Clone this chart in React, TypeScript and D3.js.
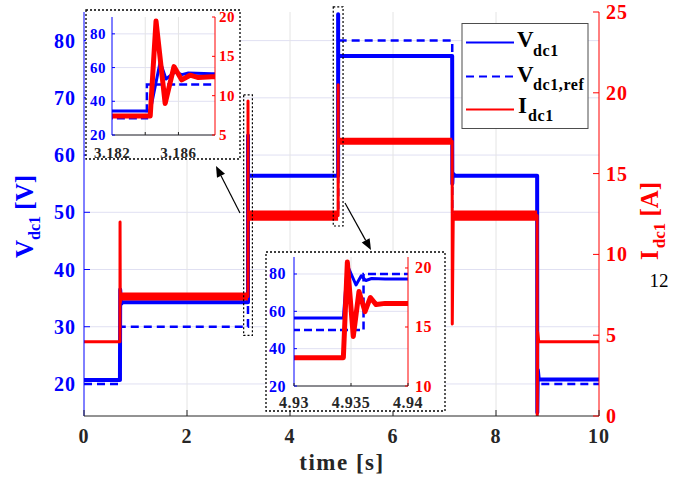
import React from 'react';
import * as d3 from 'd3';

const SERIF = '"Liberation Serif", "Times New Roman", Times, serif';
const BLUE = '#0000ff';
const RED = '#ff0000';
const AXIS_DARK = '#262626';
const GRID_H = '#e0e0f2';
const GRID_V = '#e4e4e4';

// DC-link voltage V_dc1 [V] over time [s]
const V_TIME = [0, 0.698, 0.703, 0.72, 0.75, 3.1843, 3.1849, 3.18525, 3.1858, 3.1862, 3.1866, 3.188,
  4.93433, 4.93468, 4.93544, 4.9359, 4.9363, 4.9368, 4.938, 7.149, 7.152, 7.16, 7.2,
  8.799, 8.802, 8.812, 8.83, 10];
const V_VALUE = [20.7, 20.7, 36.5, 34.0, 34.3, 34.3, 63.4, 53.2, 57.4, 55.8, 56.8, 56.4,
  56.4, 84.6, 74.1, 79.0, 76.5, 77.6, 77.3, 77.3, 55.0, 56.8, 56.4,
  56.4, 15.0, 22.5, 20.8, 20.8];

// Voltage reference V_dc1,ref [V], each value held until the next time
const VREF_TIME = [0, 0.7, 3.1841, 4.9361, 7.15, 8.8, 10];
const VREF_VALUE = [20, 30, 50, 80, 50, 20, 20];

// DC current I_dc1 [A]
const I_TIME = [0, 0.698, 0.7, 0.704, 0.72, 3.1843, 3.18465, 3.1852, 3.18573, 3.1862, 3.1867, 3.1872, 3.188,
  4.93433, 4.93468, 4.9352, 4.9357, 4.93623, 4.9367, 4.9372, 4.938, 7.149, 7.151, 7.17,
  8.799, 8.801, 8.808, 8.83, 10];
const I_VALUE = [4.6, 4.6, 12.0, 7.0, 7.4, 7.4, 19.5, 9.0, 13.7, 12.0, 12.6, 12.3, 12.4,
  12.4, 20.5, 14.2, 18.0, 16.3, 17.5, 16.9, 17.0, 17.0, 5.7, 12.4,
  12.4, 0, 5.2, 4.6, 4.6];

// Switching ripple of the current plateaus (band in the full-length view)
const RIPPLE_FROM = [0.72, 3.19, 4.94, 7.17];
const RIPPLE_TO = [3.184, 4.934, 7.149, 8.799];
const RIPPLE_LEVEL = [7.4, 12.4, 17.0, 12.4];
const RIPPLE_AMP = [0.25, 0.32, 0.22, 0.32];

// Zoomed windows marked in the full-length view
const ZOOM_T_FROM = [3.10, 4.84];
const ZOOM_T_TO = [3.27, 5.03];
const ZOOM_V_LOW = [28.5, 47.6];
const ZOOM_V_HIGH = [70.5, 85.9];

// Axis ticks
const X_TICKS = [0, 2, 4, 6, 8, 10];
const X_GRID = [2, 4, 6, 8];
const V_TICKS = [20, 30, 40, 50, 60, 70, 80];
const I_TICKS = [0, 5, 10, 15, 20, 25];
const INSET1_X_TICKS = [3.182, 3.186];
const INSET1_X_GRID = [3.184, 3.186];
const INSET1_V_TICKS = [20, 40, 60, 80];
const INSET1_I_TICKS = [5, 10, 15, 20];
const INSET2_X_TICKS = [4.93, 4.935, 4.94];
const INSET2_X_GRID = [4.935];
const INSET2_V_TICKS = [20, 40, 60, 80];
const INSET2_I_TICKS = [10, 15, 20];

type Scale = d3.ScaleLinear<number, number>;

type PanelProps = {
  id: string;
  x: Scale;
  yV: Scale;
  yI: Scale;
  xTicks: number[];
  xLabels: number[];
  xGrid: number[];
  vTicks: number[];
  iTicks: number[];
  fontSize: number;
  letterSpacing: number;
  vWidth: number;
  refWidth: number;
  iWidth: number;
  dash: string;
  ripple: boolean;
  tick: number;
  vLabelX: number;
  iLabelX: number;
  xLabelY: number;
};

function Panel(p: PanelProps) {
  const [left, right] = p.x.range();
  const [bottom, top] = p.yV.range();
  const idxV = V_TIME.map((_, i) => i);
  const idxR = VREF_TIME.map((_, i) => i);
  const idxI = I_TIME.map((_, i) => i);
  const vLine = d3.line<number>().x(i => p.x(V_TIME[i])).y(i => p.yV(V_VALUE[i]));
  const refLine = d3.line<number>().curve(d3.curveStepAfter)
    .x(i => p.x(VREF_TIME[i])).y(i => p.yV(VREF_VALUE[i]));
  const iLine = d3.line<number>().x(i => p.x(I_TIME[i])).y(i => p.yI(I_VALUE[i]));
  const clip = `clip-${p.id}`;
  const text = {
    fontFamily: SERIF,
    fontWeight: 700,
    fontSize: p.fontSize,
    letterSpacing: p.letterSpacing,
  } as const;
  return (
    <g>
      <defs>
        <clipPath id={clip}>
          <rect x={left} y={top} width={right - left} height={bottom - top} />
        </clipPath>
      </defs>
      {p.vTicks.map(v => (
        <line key={`gh${v}`} x1={left} x2={right} y1={p.yV(v)} y2={p.yV(v)} stroke={GRID_H} strokeWidth={1} />
      ))}
      {p.xGrid.map(t => (
        <line key={`gv${t}`} x1={p.x(t)} x2={p.x(t)} y1={top} y2={bottom} stroke={GRID_V} strokeWidth={1} />
      ))}
      <g clipPath={`url(#${clip})`}>
        <path d={refLine(idxR) ?? ''} fill="none" stroke={BLUE} strokeWidth={p.refWidth} strokeDasharray={p.dash} />
        <path d={vLine(idxV) ?? ''} fill="none" stroke={BLUE} strokeWidth={p.vWidth} strokeLinejoin="round" />
        {p.ripple && RIPPLE_FROM.map((t0, k) => {
          const band = d3.area<number>()
            .x(t => p.x(t))
            .y0(() => p.yI(RIPPLE_LEVEL[k] - RIPPLE_AMP[k]))
            .y1(() => p.yI(RIPPLE_LEVEL[k] + RIPPLE_AMP[k]));
          return <path key={`rp${k}`} d={band([t0, RIPPLE_TO[k]]) ?? ''} fill={RED} />;
        })}
        <path d={iLine(idxI) ?? ''} fill="none" stroke={RED} strokeWidth={p.iWidth} strokeLinejoin="round" />
      </g>
      <line x1={left} x2={left} y1={top} y2={bottom} stroke={BLUE} strokeWidth={1} />
      <line x1={right} x2={right} y1={top} y2={bottom} stroke={RED} strokeWidth={1} />
      <line x1={left} x2={right} y1={bottom} y2={bottom} stroke={AXIS_DARK} strokeWidth={1} />
      {p.vTicks.map(v => (
        <g key={`vt${v}`}>
          <line x1={left} x2={left + p.tick} y1={p.yV(v)} y2={p.yV(v)} stroke={BLUE} strokeWidth={1} />
          <text {...text} x={p.vLabelX} y={p.yV(v)} textAnchor="end" dominantBaseline="central" fill={BLUE}>{v}</text>
        </g>
      ))}
      {p.iTicks.map(v => (
        <g key={`it${v}`}>
          <line x1={right - p.tick} x2={right} y1={p.yI(v)} y2={p.yI(v)} stroke={RED} strokeWidth={1} />
          <text {...text} x={p.iLabelX} y={p.yI(v)} textAnchor="start" dominantBaseline="central" fill={RED}>{v}</text>
        </g>
      ))}
      {p.xTicks.map(t => (
        <line key={`xt${t}`} x1={p.x(t)} x2={p.x(t)} y1={bottom} y2={bottom - p.tick} stroke={AXIS_DARK} strokeWidth={1} />
      ))}
      {p.xLabels.map(t => (
        <text key={`xl${t}`} {...text} x={p.x(t)} y={p.xLabelY} textAnchor="middle" fill={AXIS_DARK}>{t}</text>
      ))}
    </g>
  );
}

function Arrow({ x1, y1, x2, y2 }: { x1: number; y1: number; x2: number; y2: number }) {
  const a = Math.atan2(y2 - y1, x2 - x1);
  const len = 11;
  const half = 4.5;
  const bx = x2 - len * Math.cos(a);
  const by = y2 - len * Math.sin(a);
  const nx = -Math.sin(a) * half;
  const ny = Math.cos(a) * half;
  return (
    <g>
      <line x1={x1} y1={y1} x2={bx} y2={by} stroke="#000" strokeWidth={1.2} />
      <path d={`M${x2},${y2}L${bx + nx},${by + ny}L${bx - nx},${by - ny}Z`} fill="#000" />
    </g>
  );
}

export default function App() {
  // full-length view
  const x = d3.scaleLinear().domain([0, 10]).range([84, 599]);
  const yV = d3.scaleLinear().domain([14.4, 85]).range([416, 12]);
  const yI = d3.scaleLinear().domain([0, 25]).range([416, 12]);

  // zoom around the 30 V -> 50 V reference step
  const x1 = d3.scaleLinear().domain([3.182, 3.1882]).range([112, 215]);
  const yV1 = d3.scaleLinear().domain([20, 90]).range([135, 17]);
  const yI1 = d3.scaleLinear().domain([5, 20]).range([135, 17]);

  // zoom around the 50 V -> 80 V reference step
  const x2 = d3.scaleLinear().domain([4.93, 4.94]).range([294, 408]);
  const yV2 = d3.scaleLinear().domain([20, 89.1]).range([386, 257]);
  const yI2 = d3.scaleLinear().domain([10, 20.93]).range([386, 257]);

  const boldText = { fontFamily: SERIF, fontWeight: 700 } as const;

  return (
    <svg width={690} height={483} viewBox="0 0 690 483"
      style={{ position: 'absolute', left: 0, top: 0, background: '#fff' }}>
      <Panel id="main" x={x} yV={yV} yI={yI}
        xTicks={X_TICKS} xLabels={X_TICKS} xGrid={X_GRID} vTicks={V_TICKS} iTicks={I_TICKS}
        fontSize={20} letterSpacing={1} vWidth={4} refWidth={2.5} iWidth={3} dash="8 5"
        ripple tick={6} vLabelX={76} iLabelX={606} xLabelY={443} />

      {/* zoom windows */}
      {ZOOM_T_FROM.map((t0, k) => (
        <rect key={`zw${k}`} x={x(t0)} y={yV(ZOOM_V_HIGH[k])}
          width={x(ZOOM_T_TO[k]) - x(t0)} height={yV(ZOOM_V_LOW[k]) - yV(ZOOM_V_HIGH[k])}
          fill="none" stroke="#000" strokeWidth={1.2} strokeDasharray="2 2" />
      ))}

      {/* inset 1 */}
      <rect x={86} y={10} width={154} height={149} fill="#fff" stroke="#000" strokeWidth={1.3} strokeDasharray="2 2" />
      <Panel id="in1" x={x1} yV={yV1} yI={yI1}
        xTicks={INSET1_X_GRID} xLabels={INSET1_X_TICKS} xGrid={INSET1_X_GRID}
        vTicks={INSET1_V_TICKS} iTicks={INSET1_I_TICKS}
        fontSize={15} letterSpacing={0.5} vWidth={3} refWidth={2.5} iWidth={5} dash="8 4"
        ripple={false} tick={3} vLabelX={106} iLabelX={219} xLabelY={158} />

      {/* inset 2 */}
      <rect x={266} y={252} width={179} height={159} fill="#fff" stroke="#000" strokeWidth={1.3} strokeDasharray="2 2" />
      <Panel id="in2" x={x2} yV={yV2} yI={yI2}
        xTicks={INSET2_X_TICKS} xLabels={INSET2_X_TICKS} xGrid={INSET2_X_GRID}
        vTicks={INSET2_V_TICKS} iTicks={INSET2_I_TICKS}
        fontSize={16} letterSpacing={0.5} vWidth={3} refWidth={2.5} iWidth={5} dash="8 4"
        ripple={false} tick={3} vLabelX={286} iLabelX={415} xLabelY={408} />

      <Arrow x1={240} y1={213} x2={216} y2={166} />
      <Arrow x1={345} y1={203} x2={371} y2={250} />

      {/* axis titles */}
      <text {...boldText} fontSize={23} letterSpacing={1.5} x={342} y={470} textAnchor="middle" fill={AXIS_DARK}>time [s]</text>
      <text {...boldText} fontSize={25} fill={BLUE} transform="translate(33,258) rotate(-90)">
        V<tspan fontSize={16} dy={7}>dc1</tspan><tspan dy={-7}> [V]</tspan>
      </text>
      <text {...boldText} fontSize={25} fill={RED} transform="translate(658,260) rotate(-90)">
        I<tspan fontSize={17} dy={7} dx={2}>dc1</tspan><tspan dy={-7}> [A]</tspan>
      </text>
      <text fontFamily={SERIF} fontSize={19} x={659} y={287} textAnchor="middle" fill="#000">12</text>

      {/* legend */}
      <rect x={462} y={23.5} width={126} height={105} fill="#fff" stroke="#4d4d4d" strokeWidth={1} />
      <line x1={466} x2={514} y1={42.5} y2={42.5} stroke={BLUE} strokeWidth={2} />
      <line x1={466} x2={514} y1={76.5} y2={76.5} stroke={BLUE} strokeWidth={2} strokeDasharray="8 5" />
      <line x1={466} x2={514} y1={109.5} y2={109.5} stroke={RED} strokeWidth={2} />
      <text {...boldText} fontSize={23} x={517} y={47} fill="#000">V</text>
      <text {...boldText} fontSize={16} letterSpacing={0.6} x={533} y={56} fill="#000">dc1</text>
      <text {...boldText} fontSize={23} x={517} y={82} fill="#000">V</text>
      <text {...boldText} fontSize={16} letterSpacing={0.6} x={533} y={90} fill="#000">dc1,ref</text>
      <text {...boldText} fontSize={23} x={518} y={113} fill="#000">I</text>
      <text {...boldText} fontSize={16} letterSpacing={0.6} x={528} y={121} fill="#000">dc1</text>
    </svg>
  );
}
